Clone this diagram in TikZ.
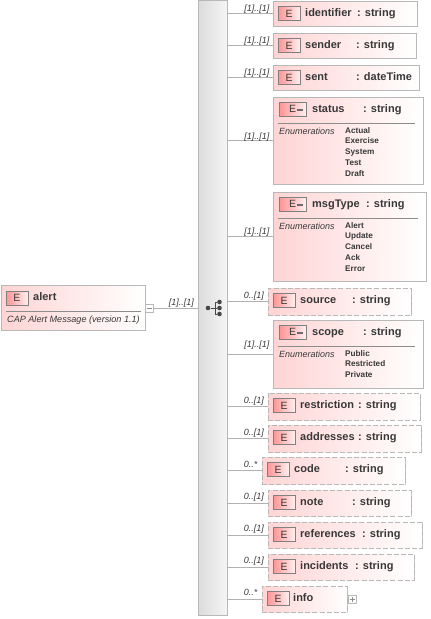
\documentclass[tikz,border=0pt]{standalone}
\usepackage{fontspec}
\setmainfont{Liberation Sans}
\usetikzlibrary{shadows}
\definecolor{edge}{HTML}{B8B8B8}
\definecolor{pinkL}{HTML}{FFD4D4}
\definecolor{wire}{HTML}{B2B2B2}
\definecolor{ink}{HTML}{383838}
\tikzset{
  x=1pt,y=-1pt,
  elbox/.style={draw=edge,line width=1pt,left color=pinkL,right color=white,inner sep=0,outer sep=0,anchor=north west,
    drop shadow={shadow xshift=1.2pt,shadow yshift=-1.2pt,fill=black,opacity=.25}},
  opt/.style={dash pattern=on 5pt off 2.2pt},
  icon/.style={draw=black!50,line width=1pt,left color=red!42,right color=red!6,inner sep=0,outer sep=0,anchor=north west,minimum height=14pt,text=ink,font=\fontsize{10.5}{10.5}\selectfont},
  elname/.style={anchor=base west,inner sep=0,text=ink,font=\fontsize{11}{12}\selectfont\bfseries},
  mult/.style={anchor=base east,inner sep=0,text=ink,font=\fontsize{9}{10}\selectfont\itshape},
  enum/.style={anchor=base west,inner sep=0,text=ink,font=\fontsize{8.2}{10}\selectfont\bfseries},
  enumhead/.style={anchor=base west,inner sep=0,text=ink,font=\fontsize{9}{10}\selectfont\itshape},
  wirel/.style={draw=wire,line width=.8pt},
  rulel/.style={draw=black!45,line width=.8pt},
  seqdot/.style={circle,fill=black!72,inner sep=0,minimum size=4.6pt},
  toggle/.style={draw=edge,fill=white,line width=.7pt,inner sep=0,outer sep=0,minimum size=8pt},
}
% \el[style]{x0}{y0}{x1}{y1}{name}{colonx}{type}{id}
\newcommand{\el}[9][]{%
  \pgfmathsetmacro{\bw}{#4-#2}%
  \pgfmathsetmacro{\bh}{#5-#3}%
  \node[elbox,#1,minimum width=\bw pt,minimum height=\bh pt] (box#9) at (#2,#3) {};
  \draw[wirel] (bar.east |- box#9.west) -- (box#9.west);
  \pgfmathsetmacro{\iy}{#3+5.5}%
  \pgfmathsetmacro{\ix}{#2+5}%
  \pgfmathsetmacro{\ny}{#3+15}%
  \pgfmathsetmacro{\nx}{\ix+27}%
  \node[icon,minimum width=22pt] (icon#9) at (\ix,\iy) {E};
  \node[elname] (name#9) at (\nx,\ny) {#6};
  \node[elname] (type#9) at (#7,\ny) {: #8};
}
\newcommand{\eb}[7]{% id x0 y0 x1 y1 name colonx
  \pgfmathsetmacro{\bw}{#4-#2}%
  \pgfmathsetmacro{\bh}{#5-#3}%
  \node[elbox,minimum width=\bw pt,minimum height=\bh pt] (box#1) at (#2,#3) {};
  \draw[wirel] (bar.east |- box#1.west) -- (box#1.west);
  \pgfmathsetmacro{\ix}{#2+6}%
  \pgfmathsetmacro{\iy}{#3+5}%
  \pgfmathsetmacro{\ny}{#3+15}%
  \pgfmathsetmacro{\ty}{#3+26}%
  \pgfmathsetmacro{\rl}{#2+5}%
  \pgfmathsetmacro{\rr}{#4-8}%
  \pgfmathsetmacro{\hy}{#3+37}%
  \pgfmathsetmacro{\tdx}{\ix+17.5}%
  \pgfmathsetmacro{\tdy}{\iy+7.5}%
  \pgfmathsetmacro{\tdz}{\tdx+6.5}%
  \node[icon,minimum width=27pt,text width=21pt,align=center] (icon#1) at (\ix,\iy) {E};
  \draw[black!58,line width=2pt] (\tdx,\tdy) -- (\tdz,\tdy);
  \node[elname] (name#1) at (312,\ny) {#6};
  \node[elname] (type#1) at (#7,\ny) {: string};
  \coordinate (rl#1) at (\rl,\ty);
  \coordinate (rr#1) at (\rr,\ty);
  \draw[rulel] (rl#1) -- (rr#1);
  \node[enumhead] (eh#1) at (279,\hy) {Enumerations};
}
\newcommand{\ev}[3]{\node[enum] (ev#1) at (345,#2) {#3};}
\begin{document}
\begin{tikzpicture}
\useasboundingbox (0,0) rectangle (431,619);
% bar
\node[draw=edge,line width=.8pt,left color=black!14,right color=black!4,inner sep=0,outer sep=0,anchor=north west,minimum width=29pt,minimum height=615pt,
  drop shadow={shadow xshift=1.2pt,shadow yshift=-1.2pt,fill=black,opacity=.25}] (bar) at (198,0) {};
% alert
\node[elbox,minimum width=144pt,minimum height=45pt] (alert) at (1,285) {};
\node[icon,minimum width=22pt] (iconA) at (6,291) {E};
\node[elname] (nameA) at (33,300) {alert};
\coordinate (ra) at (6,311);
\coordinate (rb) at (141,311);
\draw[rulel] (ra) -- (rb);
\node[enumhead,font=\fontsize{9.1}{10}\selectfont\itshape] (docA) at (7,322) {CAP Alert Message (version 1.1)};
\node[toggle] (minus) at (149.5,308) {};
\draw[black!45,line width=.6pt] (147,308) -- (152,308);
\draw[wirel] (minus.east) -- (bar.west |- minus.east);
\node[mult] (malert) at (194,305.5) {[1]..[1]};
% sequence icon
\node[seqdot] (d0) at (208,308) {};
\node[seqdot] (d1) at (219.5,302) {};
\node[seqdot] (d2) at (219.5,308) {};
\node[seqdot] (d3) at (219.5,314) {};
\coordinate (st) at (215,302);
\coordinate (sb) at (215,314);
\draw[black!72,line width=.8pt] (d0) -- (d2) (d1) -- (st) -- (sb) -- (d3);
% children
\el{273}{1}{417}{26}{identifier}{357}{string}{a}
\el{273}{33}{416}{58}{sender}{356}{string}{b}
\el{273}{65}{419}{90}{sent}{356}{dateTime}{c}
\eb{d}{273}{97}{423}{184}{status}{363}
\ev{d1}{133}{Actual}\ev{d2}{143}{Exercise}\ev{d3}{154}{System}\ev{d4}{165}{Test}\ev{d5}{176}{Draft}
\eb{e}{273}{192}{426}{281}{msgType}{366}
\ev{e1}{228}{Alert}\ev{e2}{238}{Update}\ev{e3}{249}{Cancel}\ev{e4}{260}{Ack}\ev{e5}{271}{Error}
\el[opt]{268}{288}{411}{315}{source}{352}{string}{f}
\eb{g}{273}{320}{423}{388}{scope}{363}
\ev{g1}{356}{Public}\ev{g2}{366}{Restricted}\ev{g3}{377}{Private}
\el[opt]{268}{393}{420}{420}{restriction}{358}{string}{h}
\el[opt]{268}{425}{421}{452}{addresses}{358}{string}{i}
\el[opt]{262}{457}{405}{484}{code}{345}{string}{j}
\el[opt]{268}{490}{411}{516}{note}{352}{string}{k}
\el[opt]{268}{522}{422}{548}{references}{362}{string}{l}
\el[opt]{268}{554}{414}{580}{incidents}{355}{string}{m}
% info
\node[elbox,opt,minimum width=85pt,minimum height=26pt] (boxn) at (262,586) {};
\draw[wirel] (bar.east |- boxn.west) -- (boxn.west);
\node[icon,minimum width=22pt] (iconn) at (267,591.5) {E};
\node[elname] (namen) at (293,601) {info};
\node[toggle] (plus) at (352,599) {};
\draw[black!45,line width=.6pt] (349.5,599) -- (354.5,599) (352,596.5) -- (352,601.5);
% multiplicities
\foreach \y/\x/\t in {11/269.5/[1]..[1],43/269.5/[1]..[1],75/269.5/[1]..[1],139/269.5/[1]..[1],234/269.5/[1]..[1],347/269.5/[1]..[1],
  298/264/0..[1],403/264/0..[1],435/264/0..[1],499/264/0..[1],531/264/0..[1],563/264/0..[1],467/257.5/0..*,595/257.5/0..*}
  \node[mult] (m\y) at (\x,\y) {\t};
\end{tikzpicture}
\end{document}
